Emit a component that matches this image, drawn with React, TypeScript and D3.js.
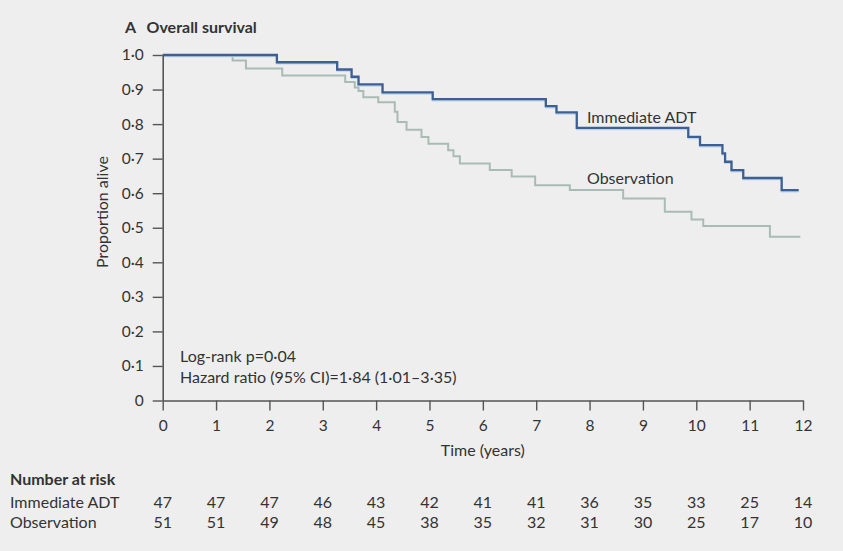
import React, { useEffect, useRef } from 'react';
import * as d3 from 'd3';

// Kaplan-Meier steps (time in years, proportion alive after the step)
const adtTimes = [0, 2.14, 3.27, 3.54, 3.67, 4.12, 5.06, 7.18, 7.38, 7.76, 9.85, 10.07, 10.49, 10.54, 10.66, 10.88, 11.6, 11.92];
const adtSurv = [1, 0.979, 0.958, 0.937, 0.915, 0.892, 0.872, 0.852, 0.834, 0.789, 0.763, 0.739, 0.715, 0.691, 0.667, 0.644, 0.609, 0.609];

const obsTimes = [0, 1.31, 1.56, 2.24, 3.42, 3.6, 3.67, 3.76, 4.04, 4.35, 4.4, 4.57, 4.85, 4.98, 5.35, 5.45, 5.57, 6.13, 6.54, 6.98, 7.63, 8.63, 9.41, 9.91, 10.13, 11.38, 11.95];
const obsSurv = [1, 0.984, 0.961, 0.941, 0.922, 0.906, 0.896, 0.878, 0.863, 0.836, 0.806, 0.784, 0.763, 0.743, 0.724, 0.707, 0.686, 0.667, 0.648, 0.623, 0.609, 0.585, 0.546, 0.524, 0.505, 0.474, 0.474];

const riskTimes = [0, 1, 2, 3, 4, 5, 6, 7, 8, 9, 10, 11, 12];
const adtAtRisk = [47, 47, 47, 46, 43, 42, 41, 41, 36, 35, 33, 25, 14];
const obsAtRisk = [51, 51, 49, 48, 45, 38, 35, 32, 31, 30, 25, 17, 10];

const yTicks = [0, 0.1, 0.2, 0.3, 0.4, 0.5, 0.6, 0.7, 0.8, 0.9, 1.0];

const W = 843;
const H = 551;
const FONT = 'Lato, "Open Sans", sans-serif';
const INK = '#333333';
const FS = 16;

const App = () => {
  const svgRef = useRef<SVGSVGElement>(null);

  useEffect(() => {
    const svg = d3.select(svgRef.current);
    svg.selectAll('*').remove();

    const x = d3.scaleLinear().domain([0, 12]).range([162.7, 803]);
    const y = d3.scaleLinear().domain([0, 1]).range([400.5, 55]);

    svg.append('rect').attr('width', W).attr('height', H).attr('fill', '#eeeeee');

    const g = svg.append('g')
      .attr('font-family', FONT)
      .attr('fill', INK);

    // title
    g.append('text').attr('x', 125).attr('y', 33)
      .attr('font-size', FS).attr('font-weight', 700)
      .text('A');
    g.append('text').attr('x', 146.5).attr('y', 33)
      .attr('font-size', FS).attr('font-weight', 700)
      .text('Overall survival');

    // curves
    const line = d3.line<[number, number]>()
      .x(d => x(d[0]))
      .y(d => y(d[1]))
      .curve(d3.curveStepAfter);

    const obsPts = obsTimes.map((t, i) => [t, obsSurv[i]] as [number, number]);
    const adtPts = adtTimes.map((t, i) => [t, adtSurv[i]] as [number, number]);

    g.append('path').attr('d', line(obsPts))
      .attr('fill', 'none').attr('stroke', '#a9bcb4').attr('stroke-width', 2);

    g.append('path').attr('d', line(adtPts))
      .attr('transform', 'translate(0,1.6)')
      .attr('fill', 'none').attr('stroke', '#bcd4ea').attr('stroke-width', 1.5);
    g.append('path').attr('d', line(adtPts))
      .attr('fill', 'none').attr('stroke', '#3e5f93').attr('stroke-width', 2.3);

    // axes
    const fmt = (v: number) => (v === 0 ? '0' : d3.format('.1f')(v).replace('.', '\u00b7'));

    const yAxis = g.append('g')
      .attr('transform', `translate(${x(0)},0)`)
      .call(d3.axisLeft(y).tickValues(yTicks).tickFormat(fmt as any).tickSize(10).tickSizeOuter(0).tickPadding(9));
    const xAxis = g.append('g')
      .attr('transform', `translate(0,${y(0)})`)
      .call(d3.axisBottom(x).tickValues(riskTimes).tickFormat(d3.format('d') as any).tickSize(10).tickSizeOuter(0).tickPadding(9));

    [yAxis, xAxis].forEach(ax => {
      ax.select('.domain').attr('stroke', '#555').attr('stroke-width', 1.6);
      ax.selectAll('.tick line').attr('stroke', '#555').attr('stroke-width', 1.4);
      ax.selectAll('.tick text').attr('fill', INK).attr('font-size', 15.5).attr('font-family', FONT);
    });

    // axis titles
    g.append('text')
      .attr('transform', `translate(108,268) rotate(-90)`)
      .attr('font-size', FS)
      .text('Proportion alive');
    g.append('text')
      .attr('x', x(6)).attr('y', 456)
      .attr('text-anchor', 'middle').attr('font-size', FS)
      .text('Time (years)');

    // series labels
    g.append('text').attr('x', 587).attr('y', 122.5).attr('font-size', FS).text('Immediate ADT');
    g.append('text').attr('x', 587).attr('y', 184).attr('font-size', FS).text('Observation');

    // stats
    g.append('text').attr('x', 180).attr('y', 362).attr('font-size', FS).text('Log-rank p=0\u00b704');
    g.append('text').attr('x', 180).attr('y', 383).attr('font-size', FS)
      .text('Hazard ratio (95% CI)=1\u00b784 (1\u00b701\u20133\u00b735)');

    // number at risk table
    g.append('text').attr('x', 10).attr('y', 485).attr('font-size', FS).attr('font-weight', 700)
      .text('Number at risk');

    const rows = [
      { label: 'Immediate ADT', values: adtAtRisk, y: 508 },
      { label: 'Observation', values: obsAtRisk, y: 528 },
    ];
    rows.forEach(r => {
      g.append('text').attr('x', 10).attr('y', r.y).attr('font-size', FS).text(r.label);
      g.selectAll(null)
        .data(r.values)
        .enter()
        .append('text')
        .attr('x', (_d, i) => x(riskTimes[i]))
        .attr('y', r.y)
        .attr('text-anchor', 'middle')
        .attr('font-size', FS)
        .text(d => d);
    });
  }, []);

  return (
    <svg
      ref={svgRef}
      width={W}
      height={H}
      style={{ position: 'absolute', left: 0, top: 0, display: 'block' }}
    />
  );
};

export default App;
